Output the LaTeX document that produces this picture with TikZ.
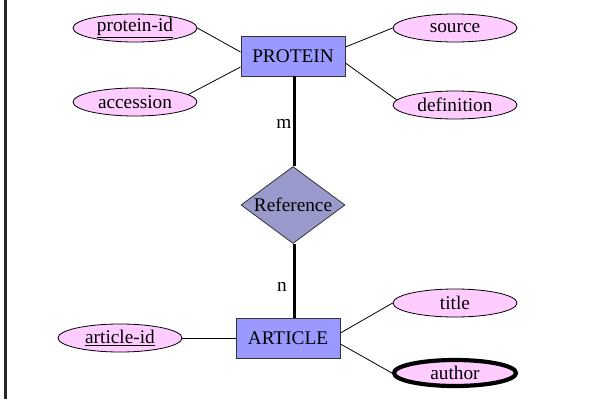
\documentclass[tikz,border=0pt]{standalone}
\usepackage{fontspec}
\setmainfont{Liberation Serif}
\usetikzlibrary{shapes.geometric}
\definecolor{entityfill}{HTML}{9999FF}
\definecolor{relfill}{HTML}{9999CC}
\definecolor{attrfill}{HTML}{FFCCFF}
\begin{document}
\begin{tikzpicture}[x=1pt,y=-1pt,
  every node/.style={font=\fontsize{19.3}{22}\selectfont},
  entity/.style={draw=black!80, line width=0.9pt, fill=entityfill, minimum width=104pt, minimum height=40pt, inner sep=0pt},
  relation/.style={diamond, draw=black!80, line width=0.8pt, fill=relfill, aspect=1.35, minimum width=104pt, minimum height=77pt, inner sep=0pt},
  attr/.style={ellipse, draw=black, line width=0.8pt, fill=attrfill, minimum width=124pt, minimum height=28pt, inner sep=0pt},
  multiattr/.style={attr, line width=4.2pt, minimum width=122pt, minimum height=26pt},
  link/.style={draw=black, line width=0.8pt},
  rellink/.style={draw=black, line width=2.6pt},
  card/.style={inner sep=0pt}]
\useasboundingbox (0,0) rectangle (589,399);
% frame rule on the left
\draw[line width=2.6pt, black!85] (5.5,0) -- (5.5,399);

% entities and relationship
\node[entity] (pro) at (293,56) {PROTEIN};
\node[relation] (ref) at (293,205) {Reference};
\node[entity] (art) at (288,338) {ARTICLE};

% attributes of PROTEIN
\node[attr] (pid) at (135,28) {\underline{protein-id}};
\node[attr] (acc) at (135,102) {accession};
\node[attr] (src) at (455,28) {source};
\node[attr] (def) at (455,105) {definition};

% attributes of ARTICLE
\node[attr] (aid) at (120,338) {\underline{article-id}};
\node[attr] (tit) at (455,303) {title};
\node[multiattr] (aut) at (455,373) {author};

% cardinalities
\node[card] (m) at (284,124) {m};
\node[card] (n) at (282,287) {n};

% relationship lines
\draw[rellink] ([xshift=1.3pt]pro.south) -- ([xshift=1.3pt]ref.north);
\draw[rellink] ([xshift=1.3pt]ref.south) -- ([xshift=1.3pt]ref.south |- art.north);

% attribute links
\draw[link] (pid.east) -- ([yshift=4pt]pro.west);
\draw[link] (acc.8) -- ([yshift=-11pt]pro.west);
\draw[link] (src.west) -- ([yshift=9pt]pro.east);
\draw[link] (def.175) -- ([yshift=-7pt]pro.east);
\draw[link] (aid.east) -- (art.west);
\draw[link] (tit.west) -- ([yshift=5pt]art.east);
\draw[link] (aut.west) -- ([yshift=-6pt]art.east);
\end{tikzpicture}
\end{document}
